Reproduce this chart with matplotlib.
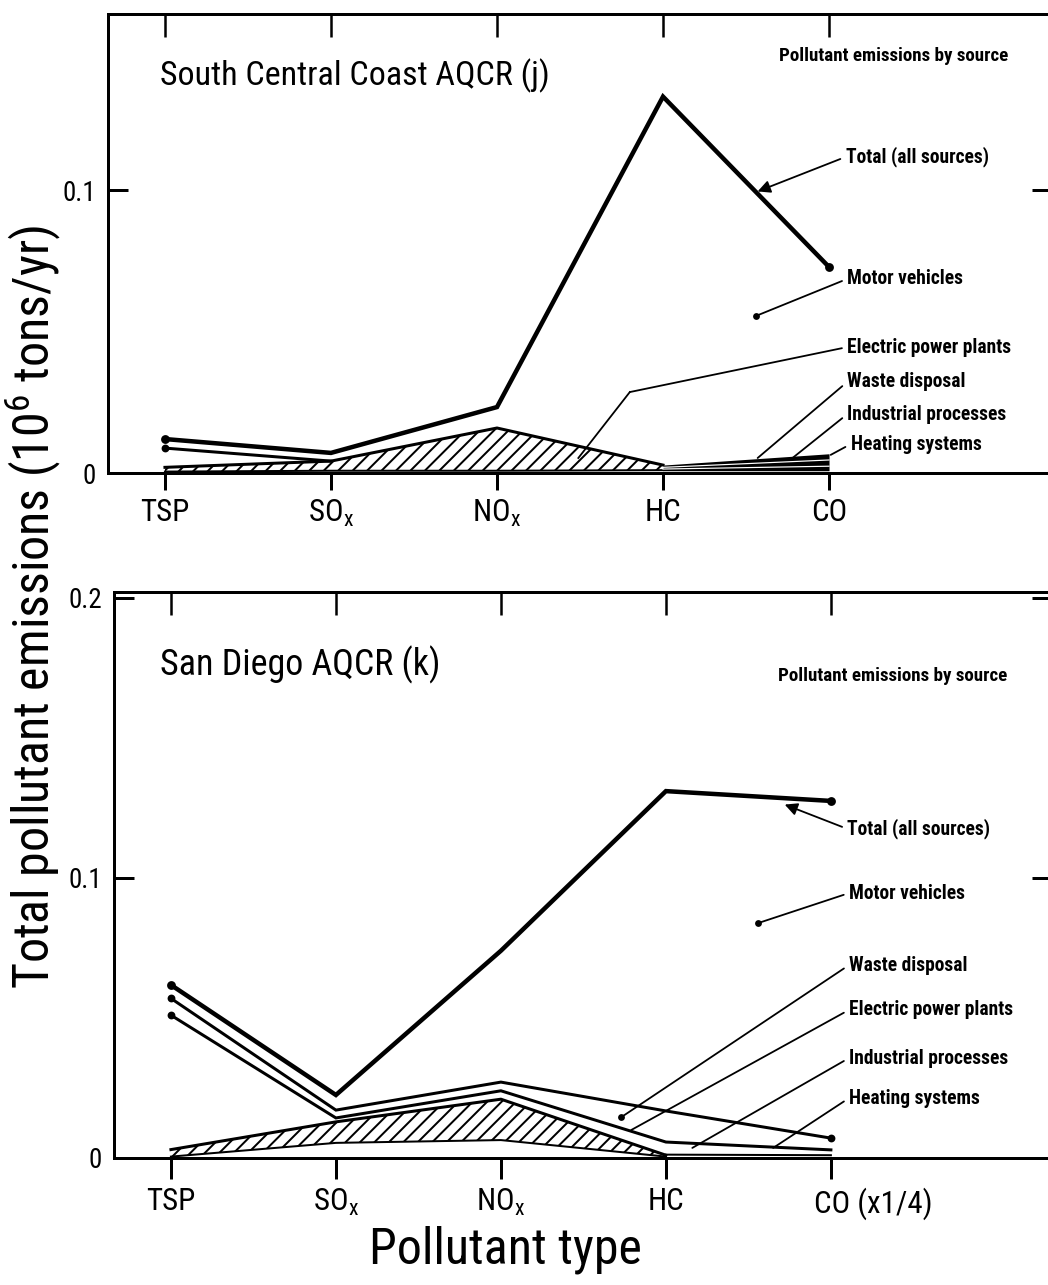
import numpy as np
import matplotlib
matplotlib.use("Agg")
import matplotlib.pyplot as plt
from matplotlib import font_manager
from matplotlib.transforms import ScaledTranslation

# ---------- data ----------
pollutants = ["TSP", "SO$_{\\rm x}$", "NO$_{\\rm x}$", "HC", "CO"]
pollutants_k = ["TSP", "SO$_{\\rm x}$", "NO$_{\\rm x}$", "HC", "CO (x1/4)"]

# South Central Coast AQCR (j), cumulative emissions, 10^6 tons/yr
j_total = [0.0120, 0.0071, 0.0233, 0.1330, 0.0728]
j_second = [0.0088, 0.0042]                      # TSP, SOx
j_hatch_top = [0.0020, 0.0042, 0.0159, 0.0028]   # TSP..HC
j_hatch_bottom = [0.0005, 0.0008, 0.0008, 0.0010]
j_band_top = [0.0028, 0.0068]                    # HC, CO
j_band_mid = [0.0020, 0.0046]
j_band_low = [0.0014, 0.0024]
j_band_bottom = [0.0008, 0.0008]

# San Diego AQCR (k)
k_total = [0.0618, 0.0225, 0.0740, 0.1310, 0.1275]
k_line_a = [0.0570, 0.0171, 0.0271, 0.0168, 0.0071]
k_line_b = [0.0510, 0.0143, 0.0240, 0.0057, 0.0029]
k_hatch_top = [0.0030, 0.0129, 0.0210, 0.0010]
k_hatch_bottom = [0.0005, 0.0054, 0.0064, 0.0005]
k_floor = [0.0012, 0.0010]                       # HC, CO

source_labels = ["Total (all sources)", "Motor vehicles", "Electric power plants",
                 "Waste disposal", "Industrial processes", "Heating systems"]

# ---------- style ----------
DPI = 130
W, H = 1048, 1285


def pt(px):
    return px * 72.0 / DPI


def box(left, top, right, bottom):
    return [left / W, 1 - bottom / H, (right - left) / W, (bottom - top) / H]


names = {f.name for f in font_manager.fontManager.ttflist}
LETTER = next((n for n in ["Liberation Sans Narrow", "DejaVu Sans Condensed",
                           "Roboto Condensed", "Open Sans Condensed"] if n in names),
              "DejaVu Sans")

plt.rcParams["font.family"] = [LETTER, "DejaVu Sans"]
plt.rcParams["mathtext.fontset"] = "custom"
plt.rcParams["mathtext.rm"] = LETTER
plt.rcParams["mathtext.it"] = LETTER
plt.rcParams["hatch.linewidth"] = pt(2.0)
plt.rcParams["hatch.color"] = "black"

LW_TOTAL = pt(4.5)
LW_LINE = pt(3.0)
LW_THIN = pt(2.0)
LW_LEAD = pt(1.8)
NOTE_SIZE = pt(19.5)
HATCH = "///"

fig = plt.figure(figsize=(W / DPI, H / DPI), dpi=DPI)
fig.patch.set_facecolor("white")

x = np.arange(5)


def setup_axes(ax, ylim, yticks, yticklabels, xlabels, xlim, tick_len):
    ax.set_xlim(*xlim)
    ax.set_ylim(*ylim)
    for side in ["left", "top", "bottom"]:
        ax.spines[side].set_linewidth(pt(3))
    ax.spines["right"].set_visible(False)
    ax.set_xticks(x)
    ax.set_xticklabels(xlabels, fontsize=pt(31))
    ax.tick_params(axis="x", direction="out", length=pt(tick_len), width=pt(3), pad=pt(8))
    ax.set_yticks(yticks)
    ax.set_yticklabels(yticklabels, fontsize=pt(27))
    ax.yaxis.set_ticks_position("both")
    ax.tick_params(axis="y", direction="in", length=pt(20), width=pt(3), pad=pt(12))
    top = ax.secondary_xaxis("top")
    top.set_xticks(x)
    top.set_xticklabels([])
    top.tick_params(direction="in", length=pt(23), width=pt(2.5))
    top.spines["top"].set_linewidth(pt(3))


def leader(ax, text, xy, xytext, dot=True, arrow=False):
    style = "-|>" if arrow else "-"
    props = dict(arrowstyle=style, lw=LW_LEAD, color="black", relpos=(0, 0.5),
                 shrinkA=1, shrinkB=0)
    if arrow:
        props["mutation_scale"] = pt(26)
    ax.annotate(text, xy=xy, xytext=xytext, ha="left", va="center",
                fontsize=NOTE_SIZE, fontweight="bold", arrowprops=props)
    if dot:
        ax.plot(*xy, "o", color="black", ms=pt(5))


# ---------- South Central Coast ----------
ax1 = fig.add_axes(box(108, 14, 1052, 473))
setup_axes(ax1, (0, 0.1622), [0, 0.1], ["0", "0.1"], pollutants, (-0.343, 5.343), 17)

ax1.fill_between(x[:4], j_hatch_bottom, j_hatch_top, facecolor="white",
                 edgecolor="black", hatch=HATCH, linewidth=0)
ax1.plot(x[:4], j_hatch_top, color="black", lw=LW_LINE, solid_joinstyle="miter")
ax1.plot(x[:4], j_hatch_bottom, color="black", lw=LW_THIN)
ax1.fill_between(x[3:], j_band_bottom, j_band_top, color="black", linewidth=0)
ax1.plot(x[3:], j_band_mid, color="white", lw=pt(1.2))
ax1.plot(x[3:], j_band_low, color="white", lw=pt(1.2))
ax1.plot(x[:2], j_second, color="black", lw=LW_LINE)
ax1.plot(x[:2], j_second, "o", color="black", ms=pt(6), markevery=[0])
ax1.plot(x, j_total, color="black", lw=LW_TOTAL, marker="o", ms=pt(7),
         markevery=[0, 4], solid_joinstyle="miter")

ax1.text(-0.03, 0.1405, "South Central Coast AQCR (j)", fontsize=pt(34),
         ha="left", va="center")
ax1.text(3.70, 0.1475, "Pollutant emissions by source", fontsize=pt(19),
         fontweight="bold", ha="left", va="center")

leader(ax1, source_labels[0], (3.57, 0.0995), (4.10, 0.1117), dot=False, arrow=True)
leader(ax1, source_labels[1], (3.56, 0.0555), (4.11, 0.0686))
leader(ax1, source_labels[2], (2.80, 0.0286), (4.11, 0.0445), dot=False)
ax1.plot([2.80, 2.49], [0.0286, 0.0053], color="black", lw=LW_LEAD)
leader(ax1, source_labels[3], (3.57, 0.0053), (4.11, 0.0322), dot=False)
leader(ax1, source_labels[4], (3.78, 0.0053), (4.11, 0.0208), dot=False)
leader(ax1, source_labels[5], (4.01, 0.0064), (4.13, 0.0102), dot=False)

# ---------- San Diego ----------
ax2 = fig.add_axes(box(114, 592, 1052, 1158))
setup_axes(ax2, (0, 0.2021), [0, 0.1, 0.2], ["0", "0.1", "0.2"], pollutants_k,
           (-0.345, 5.34), 21)
co = ax2.get_xticklabels()[-1]
co.set_ha("left")
co.set_transform(co.get_transform() + ScaledTranslation(-17 / DPI, 0, fig.dpi_scale_trans))

ax2.fill_between(x[:4], k_hatch_bottom, k_hatch_top, facecolor="white",
                 edgecolor="black", hatch=HATCH, linewidth=0)
ax2.plot(x[:4], k_hatch_top, color="black", lw=LW_LINE)
ax2.plot(x[:4], k_hatch_bottom, color="black", lw=LW_THIN)
ax2.plot(x[3:], k_floor, color="black", lw=LW_THIN)
ax2.plot(x, k_line_b, color="black", lw=LW_LINE, marker="o", ms=pt(6),
         markevery=[0], solid_joinstyle="miter")
ax2.plot(x, k_line_a, color="black", lw=LW_LINE, marker="o", ms=pt(6),
         markevery=[0, 4], solid_joinstyle="miter")
ax2.plot(x, k_total, color="black", lw=LW_TOTAL, marker="o", ms=pt(7),
         markevery=[0, 4], solid_joinstyle="miter")

ax2.text(-0.067, 0.176, "San Diego AQCR (k)", fontsize=pt(36), ha="left", va="center")
ax2.text(3.68, 0.1721, "Pollutant emissions by source", fontsize=pt(19),
         fontweight="bold", ha="left", va="center")

leader(ax2, source_labels[0], (3.72, 0.1262), (4.10, 0.1175), dot=False, arrow=True)
leader(ax2, source_labels[1], (3.56, 0.0839), (4.11, 0.0946))
leader(ax2, source_labels[3], (2.73, 0.0146), (4.11, 0.0689))
leader(ax2, source_labels[2], (2.79, 0.0100), (4.11, 0.0529), dot=False)
leader(ax2, source_labels[4], (3.16, 0.0036), (4.11, 0.0357), dot=False)
leader(ax2, source_labels[5], (3.65, 0.0036), (4.11, 0.0214), dot=False)

# ---------- shared axis titles ----------
fig.text(33 / W, 1 - 607 / H, "Total pollutant emissions (10$^{6}$ tons/yr)",
         rotation=90, ha="center", va="center", fontsize=pt(50))
fig.text(505 / W, 1 - 1250 / H, "Pollutant type", ha="center", va="center",
         fontsize=pt(50))

fig.savefig("out.png", dpi=DPI, facecolor="white")
